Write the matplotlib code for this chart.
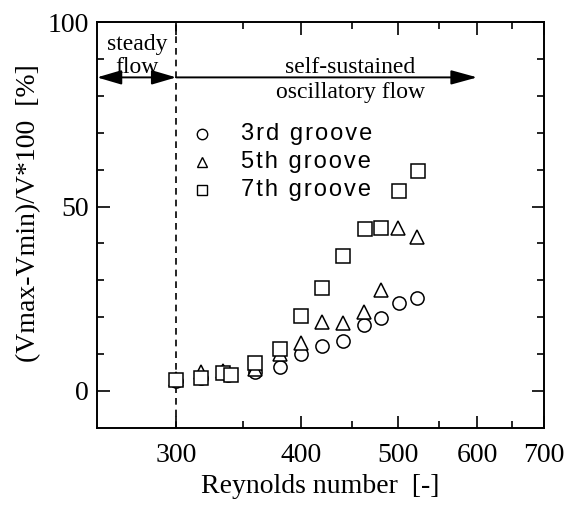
import numpy as np
import matplotlib
matplotlib.use('Agg')
import matplotlib.pyplot as plt
from matplotlib.ticker import FixedLocator, NullFormatter

# --- data ---
re_3rd = [300, 318, 338, 360, 381, 400, 420, 440, 462, 481, 501, 522]
val_3rd = [2.8, 3.6, 4.4, 5.2, 6.6, 10.0, 12.2, 13.6, 18.0, 19.9, 23.9, 25.2]

re_5th = [300, 318, 334, 360, 381, 400, 420, 440, 462, 481, 500, 522]
val_5th = [3.2, 5.1, 5.3, 6.0, 10.0, 12.9, 18.6, 18.3, 21.3, 27.5, 44.2, 41.7]

re_7th = [300, 318, 334, 340, 360, 381, 400, 420, 440, 463, 481, 501, 523]
val_7th = [3.0, 3.6, 4.9, 4.3, 7.6, 11.5, 20.3, 28.0, 36.6, 43.8, 44.2, 54.3, 59.5]

x_major = [300, 400, 500, 600, 700]
x_minor = [350, 450, 550, 650]
y_major = [0, 50, 100]
y_minor = [10, 20, 30, 40, 60, 70, 80, 90]

serif = 'Liberation Serif'
sans = ['Liberation Sans', 'DejaVu Sans']

fig = plt.figure(figsize=(5.74, 5.13), dpi=100)
ax = fig.add_axes([0.169, 0.166, 0.779, 0.791])

ms = 9.5
mew = 1.1
ax.plot(re_3rd, val_3rd, 'o', ms=ms, mfc='white', mec='black', mew=mew, ls='none', zorder=3)
ax.plot(re_5th, val_5th, '^', ms=ms, mfc='white', mec='black', mew=mew, ls='none', zorder=4)
ax.plot(re_7th, val_7th, 's', ms=ms, mfc='white', mec='black', mew=mew, ls='none', zorder=5)

ax.set_xscale('log')
ax.set_xlim(250, 700)
ax.set_ylim(-10, 100)

ax.xaxis.set_major_locator(FixedLocator(x_major))
ax.xaxis.set_minor_locator(FixedLocator(x_minor))
ax.xaxis.set_minor_formatter(NullFormatter())
ax.set_xticklabels([str(v) for v in x_major])
ax.yaxis.set_major_locator(FixedLocator(y_major))
ax.yaxis.set_minor_locator(FixedLocator(y_minor))

ax.tick_params(which='both', direction='in', top=True, right=True, width=1.2,
               labelsize=20)
ax.tick_params(axis='x', pad=11)
ax.tick_params(axis='y', pad=6)
ax.tick_params(which='major', length=9)
ax.tick_params(which='minor', length=5)
for lab in ax.get_xticklabels() + ax.get_yticklabels():
    lab.set_fontfamily(serif)
for sp in ax.spines.values():
    sp.set_linewidth(1.4)

ax.set_xlabel('Reynolds number  [-]', fontsize=20, family=serif, labelpad=4)
ax.set_ylabel('(Vmax-Vmin)/V*100  [%]', fontsize=20, family=serif)
ax.yaxis.set_label_coords(-0.125, 0.53)

# regime boundary and arrows
ax.axvline(300, color='black', ls=(0, (4, 3)), lw=1.2, zorder=2)
ax.annotate('', xy=(300, 85), xytext=(250, 85),
            arrowprops=dict(arrowstyle='<|-|>,head_length=0.75,head_width=0.22',
                            color='black', lw=1.4, mutation_scale=20,
                            shrinkA=0, shrinkB=0))
ax.annotate('', xy=(600, 85), xytext=(300, 85),
            arrowprops=dict(arrowstyle='-|>,head_length=0.8,head_width=0.22',
                            color='black', lw=1.4, mutation_scale=20,
                            shrinkA=0, shrinkB=0))
ax.text(274, 90.8, 'steady\nflow', ha='center', va='center', fontsize=17,
        family=serif, linespacing=1.1)
ax.text(448, 84.3, 'self-sustained\noscillatory flow', ha='center', va='center',
        fontsize=17, family=serif, linespacing=1.28)

# legend drawn by hand like the original
labels = ['3rd groove', '5th groove', '7th groove']
markers = ['o', '^', 's']
for i, (lab, mk) in enumerate(zip(labels, markers)):
    yy = 69.7 - i * 7.55
    ax.plot([318.5], [yy], mk, ms=7.5, mfc='white', mec='black', mew=1.0)
    ax.text(348, yy, '\u200a'.join(lab), fontsize=17, family=sans,
            va='center', ha='left')

fig.savefig('out.png', dpi=100)
